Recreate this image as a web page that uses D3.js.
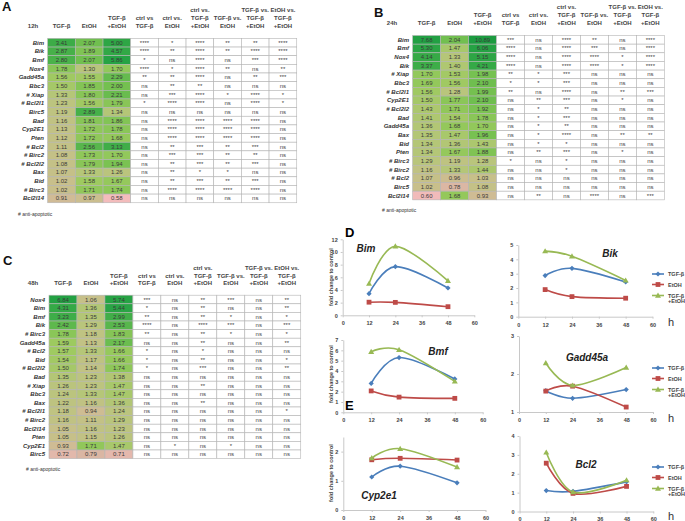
<!DOCTYPE html>
<html><head><meta charset="utf-8">
<script src="https://cdn.jsdelivr.net/npm/d3@7"></script>
<style>body{margin:0;background:#fff}svg{display:block}</style>
</head><body>
<svg id="c" width="685" height="521"></svg>
<script>
// ---------------- DATA ----------------
const genes12 = ["Bim","Bik","Bmf","Nox4","Gadd45a","Bbc3","# Xiap","# Bcl2l1","Birc5","Bad","Cyp2E1","Pten","# Bcl2","# Birc2","# Bcl2l2","Bax","Bid","# Birc3","Bcl2l14"];
const tgf12  = [3.41,2.87,2.80,1.78,1.56,1.50,1.33,1.23,1.19,1.16,1.13,1.12,1.11,1.08,1.08,1.07,1.02,1.02,0.91];
const etoh12 = [2.07,1.89,2.07,1.30,1.55,1.85,1.80,1.56,2.89,1.81,1.72,1.72,2.56,1.73,1.79,1.33,1.58,1.71,0.97];
const both12 = [5.00,4.57,5.86,1.70,2.29,2.00,2.21,1.79,1.34,1.86,1.78,1.68,3.13,1.70,1.94,1.26,1.67,1.74,0.58];
const sig12 = ["**** * **** ** ** ****","**** ** **** ** **** ****","* ns **** ns *** ****","**** * **** ** ns **",
  "** ** **** ns ** ***","ns ** ** ns ns ns","ns *** **** * **** *","* **** **** ns **** *","ns ns ns ns ns ns",
  "ns **** **** **** **** ns","ns **** **** **** **** ns","ns **** **** **** **** ns","ns ** *** ** *** ns",
  "ns *** *** ** ** ns","ns ** *** ** *** ns","ns ** * * ns ns","ns ** *** ** *** ns","ns **** **** **** **** ns","ns ns ns ns ns ns"];

const genes24 = ["Bim","Bmf","Nox4","Bik","# Xiap","Bbc3","# Bcl2l1","Cyp2E1","# Bcl2l2","Bad","Gadd45a","Bax","Bid","Pten","# Birc3","# Birc2","# Bcl2","Birc5","Bcl2l14"];
const tgf24  = [7.68,5.30,4.14,3.37,1.70,1.69,1.56,1.50,1.43,1.41,1.36,1.35,1.34,1.34,1.29,1.16,1.07,1.02,0.60];
const etoh24 = [2.04,1.47,1.33,1.40,1.53,1.56,1.28,1.77,1.71,1.54,1.68,1.47,1.36,1.67,1.19,1.33,0.96,0.78,1.68];
const both24 = [10.89,6.06,5.15,4.21,1.98,2.10,1.99,2.10,1.92,1.78,1.70,1.96,1.43,1.88,1.28,1.44,1.03,1.08,0.93];
const sig24 = ["*** ns **** ** ns ****","**** ns **** *** ns ****","**** ns **** **** * ****","**** ns **** **** * ****",
  "** * *** ns ns ns","* * *** ns ns ns","** ns **** ns ** ***","ns ** *** ns * ns","ns * ** ns ns ns",
  "ns * *** ns ns ns","ns * ** ns ns ns","ns * **** ns ** **","ns * * ns ns ns","ns ** *** ns * ns",
  "* ns * ns ns ns","ns ns * ns ns ns","ns ns ns ns ns ns","ns ns ns ns ns ns","ns ** ns **** ns ***"];

const genes48 = ["Nox4","Bim","Bmf","Bik","# Birc3","Gadd45a","# Bcl2","Bid","# Bcl2l2","Bad","# Xiap","Bbc3","Bax","# Bcl2l1","# Birc2","Bcl2l14","Pten","Cyp2E1","Birc5"];
const tgf48  = [6.84,4.31,3.23,2.42,1.78,1.59,1.57,1.54,1.50,1.35,1.26,1.24,1.22,1.18,1.16,1.05,1.05,0.93,0.72];
const etoh48 = [1.06,1.36,1.35,1.29,1.18,1.13,1.33,1.17,1.14,1.23,1.23,1.33,1.16,0.94,1.11,1.16,1.15,1.71,0.79];
const both48 = [5.74,5.44,2.99,2.53,1.83,2.17,1.66,1.66,1.74,1.38,1.47,1.47,1.36,1.24,1.29,1.23,1.26,1.47,0.71];
const sig48 = ["*** ns ** *** ns **","* ns ** ns ns **","** ns ** * ns *","**** ns **** *** ns ***",
  "** ns ** * ns *","ns ns ** ns ns **","* ns * ns ns ns","* ns ** ns ns *","* ns *** ns ns **",
  "ns ns ns ns ns ns","ns ns ** ns ns ns","ns ns ns ns ns ns","ns ns ** ns ns ns","ns ns ns ns ns *",
  "ns ns ns ns ns ns","ns ns ns ns ns ns","ns ns ns ns ns ns","ns * ns * ns ns","ns ns ns ns ns ns"];

const headers = [["TGF-β"],["EtOH"],["TGF-β","+EtOH"],["ctrl vs","TGF-β"],["ctrl vs.","EtOH"],
  ["ctrl vs.","TGF-β","+EtOH"],["TGF-β vs.","EtOH"],["TGF-β vs.","TGF-β","+EtOH"],["EtOH vs.","TGF-β","+EtOH"]];

const hours = [12, 24, 48];
const xTicks = [0, 12, 24, 36, 48, 60];
const seriesNames = ["TGF-β", "EtOH", "TGF-β +EtOH"];
const chartGenes  = ["Bim","Bik","Bmf","Gadd45a","Cyp2E1","# Bcl2"];
const chartTitles = ["Bim","Bik","Bmf","Gadd45a","Cyp2e1","Bcl2"];

// ---------------- DRAW ----------------
const svg = d3.select("#c");
const F = "'Liberation Sans', Arial, sans-serif";

const cellColor = d3.scaleLinear()
  .domain([0.58, 0.8, 1.0, 1.3, 1.6, 2.0, 3.0, 6.0, 11])
  .range(["#f3bcbc","#d9b6a2","#c9bf8c","#b8c57b","#9cca5e","#74c050","#40ae48","#25a244","#1c9b40"])
  .clamp(true);

function drawTable(t) {
  const g = svg.append("g");
  const cols = d3.range(9);
  const x = d3.scaleBand().domain(cols).range([t.x0, t.x0 + 9 * t.colW]);
  const y = d3.scaleBand().domain(d3.range(t.genes.length)).range([t.y0, t.y0 + t.genes.length * t.rowH]);
  g.append("text").attr("x", t.lx).attr("y", t.ly).text(t.label)
    .attr("font-family", F).attr("font-weight", "bold").attr("font-size", 13).attr("fill", "#111");
  // header
  g.append("text").attr("x", t.hx).attr("y", t.hy).attr("text-anchor", "middle").text(t.hour)
    .attr("font-family", F).attr("font-weight", "bold").attr("font-size", 6).attr("fill", "#444");
  headers.forEach((lines, ci) => {
    lines.forEach((s, li) => {
      g.append("text").attr("x", x(ci) + t.colW / 2).attr("y", t.hy - (lines.length - 1 - li) * t.lh)
        .attr("text-anchor", "middle").text(s)
        .attr("font-family", F).attr("font-weight", "bold").attr("font-size", 6).attr("fill", "#444");
    });
  });
  t.genes.forEach((gn, ri) => {
    const vals = [t.tgf[ri], t.etoh[ri], t.both[ri]];
    const sig = t.sig[ri].split(" ");
    const cy = y(ri) + t.rowH / 2;
    g.append("text").attr("x", t.nameX).attr("y", cy + 2).attr("text-anchor", "end").text(gn)
      .attr("font-family", F).attr("font-weight", "bold").attr("font-style", "italic").attr("font-size", 6).attr("fill", "#333");
    cols.forEach(ci => {
      const isVal = ci < 3;
      g.append("rect").attr("x", x(ci)).attr("y", y(ri)).attr("width", t.colW).attr("height", t.rowH)
        .attr("fill", isVal ? cellColor(vals[ci]) : "#fff").attr("stroke", "#b4b4b4").attr("stroke-width", 0.6);
      g.append("text").attr("x", x(ci) + t.colW / 2).attr("y", cy + 2).attr("text-anchor", "middle")
        .text(isVal ? vals[ci].toFixed(2) : sig[ci - 3])
        .attr("font-family", F).attr("font-size", 6).attr("fill", isVal ? "#3a3a3a" : "#444");
    });
  });
  g.append("text").attr("x", t.noteX).attr("y", t.noteY).text("# anti-apoptotic")
    .attr("font-family", F).attr("font-size", 5).attr("fill", "#333");
}

drawTable({label:"A", lx:2, ly:11, hour:"12h", hx:33, genes:genes12, tgf:tgf12, etoh:etoh12, both:both12, sig:sig12,
  x0:47.7, colW:27.67, y0:38.4, rowH:8.65, nameX:44, hy:28.3, lh:8.2, noteX:18, noteY:216});
drawTable({label:"B", lx:374, ly:17, hour:"24h", hx:392, genes:genes24, tgf:tgf24, etoh:etoh24, both:both24, sig:sig24,
  x0:412.7, colW:27.96, y0:35.5, rowH:8.65, nameX:409, hy:25, lh:8.2, noteX:382, noteY:212});
drawTable({label:"C", lx:3, ly:265, hour:"48h", hx:33, genes:genes48, tgf:tgf48, etoh:etoh48, both:both48, sig:sig48,
  x0:49, colW:27.97, y0:295.2, rowH:8.6, nameX:45, hy:285.3, lh:7.5, noteX:26, noteY:471});

// ---------------- LINE CHARTS ----------------
const tables = [[genes12, tgf12, etoh12, both12],[genes24, tgf24, etoh24, both24],[genes48, tgf48, etoh48, both48]];
function seriesFor(gene) {
  return [1, 2, 3].map(k => tables.map(tb => tb[k][tb[0].indexOf(gene)]));
}
const colors = ["#4a7ebb", "#be4b48", "#98b954"];

const charts = [
  {x0:342.7, x1:474.3, yd:[0,12], yr:[315.3,239.3], ticks:[0,2,4,6,8,10,12], tx:366, ty:252, yl:277},
  {x0:518.3, x1:652.5, yd:[0,5],  yr:[316.7,245],   ticks:[0,1,2,3,4,5], tx:610, ty:257, leg:274, h:326},
  {x0:343.3, x1:482.7, yd:[0,7],  yr:[412.3,340],   ticks:[0,1,2,3,4,5,6,7], tx:438, ty:355, yl:374},
  {x0:519,   x1:653,   yd:[1,3],  yr:[412,336],     ticks:[1,2,3], tx:587, ty:361, leg:368, h:422},
  {x0:343.3, x1:485.5, yd:[0,2.5],yr:[510,437],     ticks:[0,1,2], tx:379, ty:499, yl:473},
  {x0:519.5, x1:653.3, yd:[0,4],  yr:[511.5,436],   ticks:[0,1,2,3,4], tx:586, ty:468, leg:467, h:520}
];

svg.append("text").attr("x", 345).attr("y", 237).text("D").attr("font-family", F).attr("font-weight","bold").attr("font-size", 13);
svg.append("text").attr("x", 345).attr("y", 410).text("E").attr("font-family", F).attr("font-weight","bold").attr("font-size", 13);

function drawMarker(g, s, cx, cy) {
  if (s === 0) {
    g.append("path").attr("d", `M${cx},${cy-2.6}L${cx+2.6},${cy}L${cx},${cy+2.6}L${cx-2.6},${cy}Z`).attr("fill", colors[0]);
  } else if (s === 1) {
    g.append("rect").attr("x", cx - 2.4).attr("y", cy - 2.4).attr("width", 4.8).attr("height", 4.8).attr("fill", colors[1]);
  } else {
    g.append("path").attr("d", `M${cx},${cy-3}L${cx+3},${cy+2.2}L${cx-3},${cy+2.2}Z`).attr("fill", colors[2]);
  }
}

charts.forEach((c, i) => {
  const g = svg.append("g");
  const x = d3.scaleLinear().domain([0, 60]).range([c.x0, c.x1]);
  const y = d3.scaleLinear().domain(c.yd).range(c.yr);
  const ax = g.append("g").attr("transform", `translate(0,${c.yr[0]})`)
    .call(d3.axisBottom(x).tickValues(xTicks).tickSize(2).tickSizeOuter(0));
  const ay = g.append("g").attr("transform", `translate(${c.x0},0)`)
    .call(d3.axisLeft(y).tickValues(c.ticks).tickSize(2).tickSizeOuter(0).tickFormat(d3.format("d")));
  [ax, ay].forEach(a => {
    a.selectAll("path,line").attr("stroke", "#c8c8c8");
    a.selectAll("text").attr("font-family", F).attr("font-size", 5.5).attr("font-weight", "bold").attr("fill", "#444");
  });
  ax.selectAll("text").attr("dy", "0.9em");
  const ser = seriesFor(chartGenes[i]);
  const line = d3.line().x((d, k) => x(hours[k])).y(d => y(d)).curve(d3.curveCardinal.tension(0));
  ser.forEach((vals, s) => {
    g.append("path").attr("d", line(vals)).attr("fill", "none").attr("stroke", colors[s]).attr("stroke-width", 1.6);
    vals.forEach((v, k) => drawMarker(g, s, x(hours[k]), y(v)));
  });
  g.append("text").attr("x", c.tx).attr("y", c.ty).attr("text-anchor", "middle").text(chartTitles[i])
    .attr("font-family", F).attr("font-weight", "bold").attr("font-style", "italic").attr("font-size", 10).attr("fill", "#222");
  if (c.yl) {
    g.append("text").attr("transform", `translate(333,${c.yl}) rotate(-90)`).attr("text-anchor", "middle")
      .text("fold change to control").attr("font-family", F).attr("font-size", 5.5).attr("font-weight", "bold").attr("fill", "#444");
  }
  if (c.leg) {
    const lys = [c.leg, c.leg + 10.5, c.leg + 21.5];
    seriesNames.forEach((nm, s) => {
      g.append("line").attr("x1", 652).attr("x2", 664).attr("y1", lys[s]).attr("y2", lys[s])
        .attr("stroke", colors[s]).attr("stroke-width", 1.6);
      drawMarker(g, s, 658, lys[s]);
      const parts = s === 2 ? ["TGF-β", "+EtOH"] : [nm];
      parts.forEach((p, pi) => g.append("text").attr("x", 668).attr("y", lys[s] + 2 + pi * 5.5).text(p)
        .attr("font-family", F).attr("font-size", 5.5).attr("font-weight", "bold").attr("fill", "#444"));
    });
    g.append("text").attr("x", 668).attr("y", c.h).text("h").attr("font-family", F).attr("font-size", 11).attr("fill", "#333");
  }
});
</script>
</body></html>
